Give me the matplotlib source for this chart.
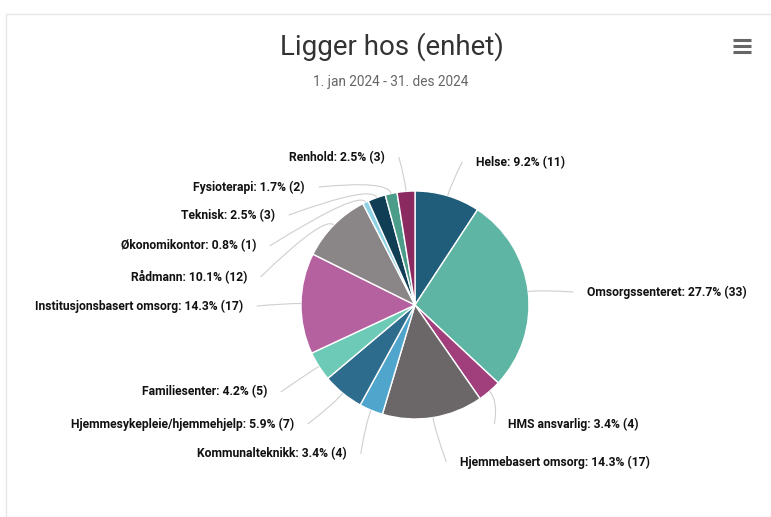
import matplotlib
matplotlib.use("Agg")
import matplotlib.pyplot as plt
import numpy as np
from matplotlib.path import Path
from matplotlib.patches import PathPatch, Rectangle

plt.rcParams['font.family'] = ['Roboto', 'DejaVu Sans']

# data
units = ["Helse", "Omsorgssenteret", "HMS ansvarlig", "Hjemmebasert omsorg",
         "Kommunalteknikk", "Hjemmesykepleie/hjemmehjelp", "Familiesenter",
         "Institusjonsbasert omsorg", "Rådmann", "Økonomikontor", "Teknisk",
         "Fysioterapi", "Renhold"]
counts = [11, 33, 4, 17, 4, 7, 5, 17, 12, 1, 3, 2, 3]
colors = ["#1f5d7a", "#5fb5a3", "#a03f7c", "#6b6668", "#4fa5cc", "#2d6c8c",
          "#6dcab7", "#b5609f", "#8a8687", "#8fd2e6", "#103f55", "#4b9d8a",
          "#8b2a61"]

# label placement (pie radius units, text anchor point)
label_pos = [(0.535, 1.254), (1.509, 0.114), (0.816, -1.044), (0.395, -1.377),
             (-0.596, -1.307), (-1.061, -1.044), (-1.298, -0.763),
             (-1.509, -0.009), (-1.474, 0.246), (-1.395, 0.518),
             (-1.228, 0.789), (-0.965, 1.035), (-0.263, 1.298)]

W, H = 771, 517
cx, cy, rad = 415, 305, 114

fig = plt.figure(figsize=(W / 100, H / 100), dpi=100)
ax = fig.add_axes([0, 0, 1, 1])
ax.patch.set_visible(False)

# card
fig.patches.append(Rectangle((6 / W, 0), (W - 6) / W, (H - 14) / H,
                             transform=fig.transFigure, facecolor='white',
                             edgecolor='#e6e6e6', lw=1.0, zorder=-5))

wedges, _ = ax.pie(counts, colors=colors, startangle=90, counterclock=False,
                   radius=1.0, wedgeprops=dict(edgecolor='white', linewidth=1.0))

total = sum(counts)
for w, name, n, (lx, ly) in zip(wedges, units, counts, label_pos):
    ang = np.deg2rad((w.theta1 + w.theta2) / 2)
    side = 1 if lx > 0 else -1
    ex, ey = np.cos(ang), np.sin(ang)
    ctrl = (1.12 * np.cos(ang), 1.12 * np.sin(ang))
    ax_, ay_ = lx - side * 0.12, ly
    p = Path([(ex, ey), ctrl, (ax_, ay_)], [Path.MOVETO, Path.CURVE3, Path.CURVE3])
    ax.add_patch(PathPatch(p, facecolor='none', edgecolor='#cfcfcf', lw=0.8))
    ax.text(lx, ly, f"{name}: {100 * n / total:.1f}% ({n})",
            ha='left' if side > 0 else 'right', va='center',
            fontsize=8.7, fontweight='bold', color='#111111')

ax.text((392 - cx) / rad, (cy - 47) / rad, "Ligger hos (enhet)", ha='center',
        va='center', fontsize=20, color='#333333')
ax.text((391 - cx) / rad, (cy - 82) / rad, "1. jan 2024 - 31. des 2024",
        ha='center', va='center', fontsize=9.8, color='#666666')

# menu icon
for dy in (-6, 0, 6):
    ax.plot([(733 - cx) / rad, (751 - cx) / rad],
            [(cy - 46 + dy) / rad] * 2, color='#666666', lw=2.2,
            solid_capstyle='butt')

ax.set_xlim(-cx / rad, (W - cx) / rad)
ax.set_ylim(-(H - cy) / rad, cy / rad)
ax.set_aspect('equal')
ax.axis('off')

fig.savefig("out.png", dpi=100)
